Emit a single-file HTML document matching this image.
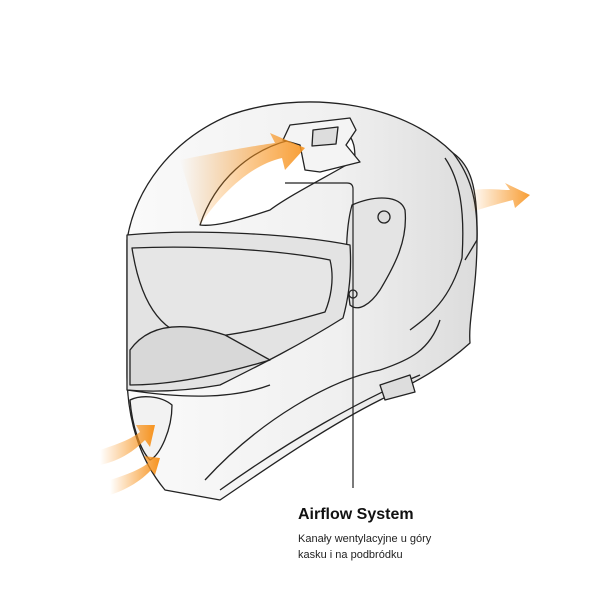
<!DOCTYPE html>
<html><head><meta charset="utf-8"><style>
body{margin:0;background:#fff;width:600px;height:600px;overflow:hidden;font-family:"Liberation Sans",sans-serif}
.t{position:absolute;left:298px;top:506px;font-weight:bold;font-size:16px;color:#111}
.s{position:absolute;left:298px;top:531px;font-size:11px;line-height:16px;color:#222}
</style></head><body>
<svg width="600" height="600" style="position:absolute;left:0;top:0">
<defs>
<linearGradient id="sh" x1="0" x2="1" y1="0" y2="0"><stop offset="0" stop-color="#fafafa"/><stop offset="0.6" stop-color="#f0f0f0"/><stop offset="1" stop-color="#dcdcdc"/></linearGradient>
<linearGradient id="or" x1="0" x2="1"><stop offset="0" stop-color="#f7931e" stop-opacity="0"/><stop offset="1" stop-color="#f7931e"/></linearGradient>
</defs>
<g stroke="#222" stroke-width="1.3" fill="none" stroke-linejoin="round">
<path d="M127,240 C135,190 170,140 230,115 C300,90 400,100 453,153 C470,165 478,185 477,240 C477,290 468,320 470,343 C440,370 413,383 380,400 C320,430 250,480 220,500 L165,490 C140,460 127,420 127,373 Z" fill="url(#sh)"/>
<path d="M200,225 C215,180 250,150 290,140 L345,130 C355,140 355,150 355,160 C330,175 290,195 270,210 C240,220 215,227 200,225 Z" fill="#fff"/>
<path d="M283,140 L290,125 L350,118 L356,130 L346,145 L360,162 L320,172 L305,170 L300,145 Z" fill="#f4f4f4"/>
<path d="M313,130 L338,127 L336,144 L312,146 Z" fill="#ddd"/>
<path d="M453,153 C470,175 478,200 477,240 L465,260"/>
<path d="M445,158 C460,180 465,210 462,258 C450,300 430,315 410,330"/>
<path d="M352,205 C375,195 400,195 405,210 C408,240 395,265 380,290 C370,305 358,312 350,305 C345,270 345,230 352,205 Z" fill="#e4e4e4"/>
<circle cx="384" cy="217" r="6" fill="#ddd"/>
<circle cx="353" cy="294" r="4"/>
<path d="M127,235 C200,228 300,235 350,245 C352,275 348,300 343,318 C300,345 260,365 220,385 C180,392 150,392 127,390 Z" fill="#e3e3e3"/>
<path d="M132,248 C200,245 280,250 330,260 C335,280 330,300 325,312 C280,325 240,335 200,338 C160,336 140,300 132,248 Z" fill="#e6e6e6"/>
<path d="M130,350 C150,322 185,322 225,335 L270,360 C220,375 170,385 130,385 Z" fill="#d8d8d8"/>
<path d="M127,390 C180,398 230,400 270,385"/>
<path d="M130,400 C140,395 160,395 172,405 C172,430 160,455 150,460 C140,450 132,425 130,400 Z" fill="#f2f2f2"/>
<path d="M205,480 C260,420 330,380 380,370 C410,360 430,350 440,320"/>
<path d="M220,490 C290,440 360,400 420,375"/>
<path d="M380,385 L410,375 L415,392 L385,400 Z" fill="#ddd"/>
</g>
<path d="M180,160 C230,150 260,145 275,143 L270,133 L305,148 L285,170 L282,158 C250,165 220,195 200,225 Z" fill="url(#or)" opacity="0.9"/>
<path d="M470,190 C490,188 500,190 510,190 L505,183 L530,195 L515,208 L513,200 C500,203 485,208 470,212 Z" fill="url(#or)" opacity="0.9"/>
<path d="M100,450 C115,445 130,440 140,432 L136,425 L155,425 L150,447 L145,440 C130,455 115,462 100,465 Z" fill="url(#or)"/>
<path d="M110,480 C125,475 140,470 148,463 L144,456 L160,458 L155,475 L151,470 C140,482 125,490 110,495 Z" fill="url(#or)"/>
<path d="M285,183 L347,183 Q353,183 353,189 L353,488" stroke="#222" stroke-width="1.2" fill="none"/>
</svg>
<div class="t">Airflow System</div>
<div class="s">Kanały wentylacyjne u góry<br>kasku i na podbródku</div>
</body></html>
